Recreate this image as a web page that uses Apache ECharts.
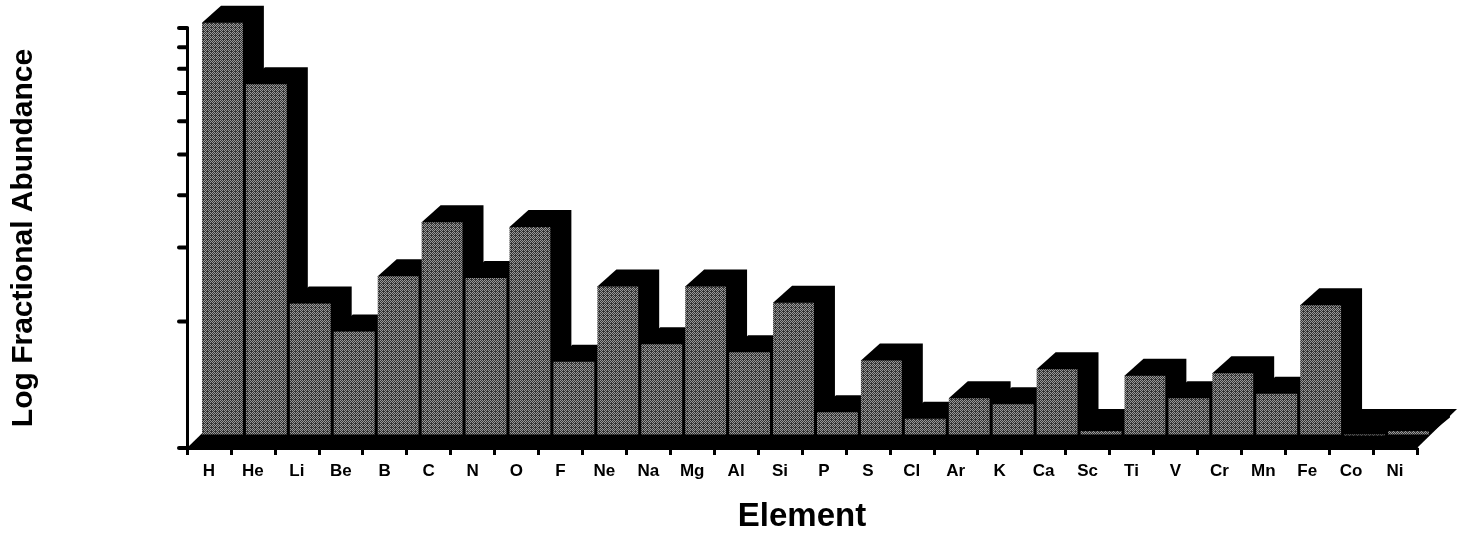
<!DOCTYPE html>
<html>
<head>
<meta charset="utf-8">
<script src="https://cdn.jsdelivr.net/npm/echarts@6/dist/echarts.min.js"></script>
<style>
  html, body { margin: 0; padding: 0; background: #ffffff; }
  #chart { width: 1458px; height: 538px; }
</style>
</head>
<body>
<div id="chart"></div>
<script>
// Elements along the floor of the 3-D column chart
const elements = ['H', 'He', 'Li', 'Be', 'B', 'C', 'N', 'O', 'F', 'Ne', 'Na', 'Mg', 'Al', 'Si',
  'P', 'S', 'Cl', 'Ar', 'K', 'Ca', 'Sc', 'Ti', 'V', 'Cr', 'Mn', 'Fe', 'Co', 'Ni'];

// Column heights on the logarithmic value axis
const abundance = [9.56, 6.82, 2.05, 1.76, 2.38, 3.20, 2.36, 3.12, 1.49, 2.25, 1.64, 2.25, 1.57, 2.06,
  1.13, 1.50, 1.09, 1.22, 1.18, 1.43, 1.02, 1.38, 1.22, 1.40, 1.25, 2.03, 1.00, 1.02];

// Unlabelled tick marks on the value axis (1 .. 10, log spaced)
const yTicks = [1, 2, 3, 4, 5, 6, 7, 8, 9, 10];

const Y_MIN = 1;
const Y_MAX = 10;

// Fine halftone-like grain used on the front faces of the columns
function grainPattern() {
  const c = document.createElement('canvas');
  c.width = 4; c.height = 4;
  const g = c.getContext('2d');
  g.fillStyle = '#333333';
  g.fillRect(0, 0, 4, 4);
  g.fillStyle = '#999999';
  g.fillRect(0, 0, 1, 1); g.fillRect(2, 0, 1, 1);
  g.fillRect(1, 1, 1, 1); g.fillRect(3, 1, 1, 1);
  g.fillRect(0, 2, 1, 1); g.fillRect(2, 2, 1, 1);
  g.fillRect(1, 3, 1, 1);
  return { image: c, repeat: 'repeat' };
}
const frontFill = grainPattern();

// Projection of the depth direction (pixels)
const BAR_SET_BACK_X = 15;   // columns sit behind the front edge of the floor
const BAR_SET_BACK_Y = 13.5;
const TOP_DX_LEFT = 19;
const TOP_DX_RIGHT = 21;
const TOP_DY = 17;
const FLOOR_DX = 40;
const FLOOR_DY = 39;

function renderColumn(params, api) {
  const idx = api.value(0);
  const v = api.value(1);
  const top = api.coord([idx, v]);
  const base = api.coord([idx, Y_MIN]);
  const w = api.size([1, 0])[0];
  const catLeft = top[0] - w / 2;
  const x0 = catLeft + BAR_SET_BACK_X;
  const x1 = x0 + w * 0.93;
  const yTop = top[1] - BAR_SET_BACK_Y;
  const yBase = base[1] - BAR_SET_BACK_Y;
  return {
    type: 'group',
    children: [
      {
        type: 'polygon',
        shape: { points: [
          [x0, yTop], [x0 + TOP_DX_LEFT, yTop - TOP_DY], [x1 + TOP_DX_RIGHT, yTop - TOP_DY],
          [x1 + TOP_DX_RIGHT, yBase - TOP_DY], [x1, yBase]
        ] },
        style: { fill: '#000000' }
      },
      {
        type: 'rect',
        shape: { x: x0, y: yTop, width: x1 - x0, height: Math.max(yBase - yTop, 1) },
        style: { fill: frontFill }
      }
    ]
  };
}

function renderFloor(params, api) {
  const first = api.coord([0, Y_MIN]);
  const last = api.coord([elements.length - 1, Y_MIN]);
  const w = api.size([1, 0])[0];
  const left = first[0] - w / 2;
  const right = last[0] + w / 2;
  const y = first[1];
  return {
    type: 'polygon',
    shape: { points: [[left, y], [right, y], [right + FLOOR_DX, y - FLOOR_DY], [left + FLOOR_DX, y - FLOOR_DY]] },
    style: { fill: '#000000' }
  };
}

function renderYTick(params, api) {
  const p = api.coord([0, api.value(1)]);
  const w = api.size([1, 0])[0];
  const x = p[0] - w / 2;
  return {
    type: 'line',
    shape: { x1: x - 8, y1: p[1], x2: x, y2: p[1] },
    style: { stroke: '#000000', lineWidth: 4, lineCap: 'round' }
  };
}

const chart = echarts.init(document.getElementById('chart'), null, { renderer: 'canvas' });

chart.setOption({
  animation: false,
  backgroundColor: '#ffffff',
  grid: { left: 187, right: 41, top: 28, bottom: 88, containLabel: false },
  xAxis: {
    type: 'category',
    data: elements,
    boundaryGap: true,
    name: 'Element',
    nameLocation: 'middle',
    nameGap: 52,
    nameTextStyle: { fontFamily: 'Liberation Sans', fontWeight: 'bold', fontSize: 33, color: '#000000' },
    axisLine: { show: true, lineStyle: { color: '#000000', width: 3 } },
    axisTick: { show: true, interval: 0, length: 7, lineStyle: { color: '#000000', width: 3 } },
    axisLabel: { interval: 0, margin: 15, fontFamily: 'Liberation Sans', fontWeight: 'bold', fontSize: 17, color: '#000000' },
    splitLine: { show: false }
  },
  yAxis: {
    type: 'log',
    logBase: 10,
    min: Y_MIN,
    max: Y_MAX,
    name: 'Log Fractional Abundance',
    nameLocation: 'middle',
    nameRotate: 90,
    nameGap: 148,
    nameTextStyle: { fontFamily: 'Liberation Sans', fontWeight: 'bold', fontSize: 30, color: '#000000' },
    axisLine: { show: true, lineStyle: { color: '#000000', width: 3 } },
    axisTick: { show: false },
    axisLabel: { show: false },
    splitLine: { show: false }
  },
  series: [
    {
      type: 'custom',
      name: 'floor',
      renderItem: renderFloor,
      data: [[0, Y_MIN]],
      clip: false,
      z: 1
    },
    {
      type: 'custom',
      name: 'abundance',
      renderItem: renderColumn,
      data: abundance.map((v, i) => [i, v]),
      encode: { x: 0, y: 1 },
      clip: false,
      z: 2
    },
    {
      type: 'custom',
      name: 'yTicks',
      renderItem: renderYTick,
      data: yTicks.map(v => [0, v]),
      encode: { x: 0, y: 1 },
      clip: false,
      z: 3
    }
  ]
});
</script>
</body>
</html>
